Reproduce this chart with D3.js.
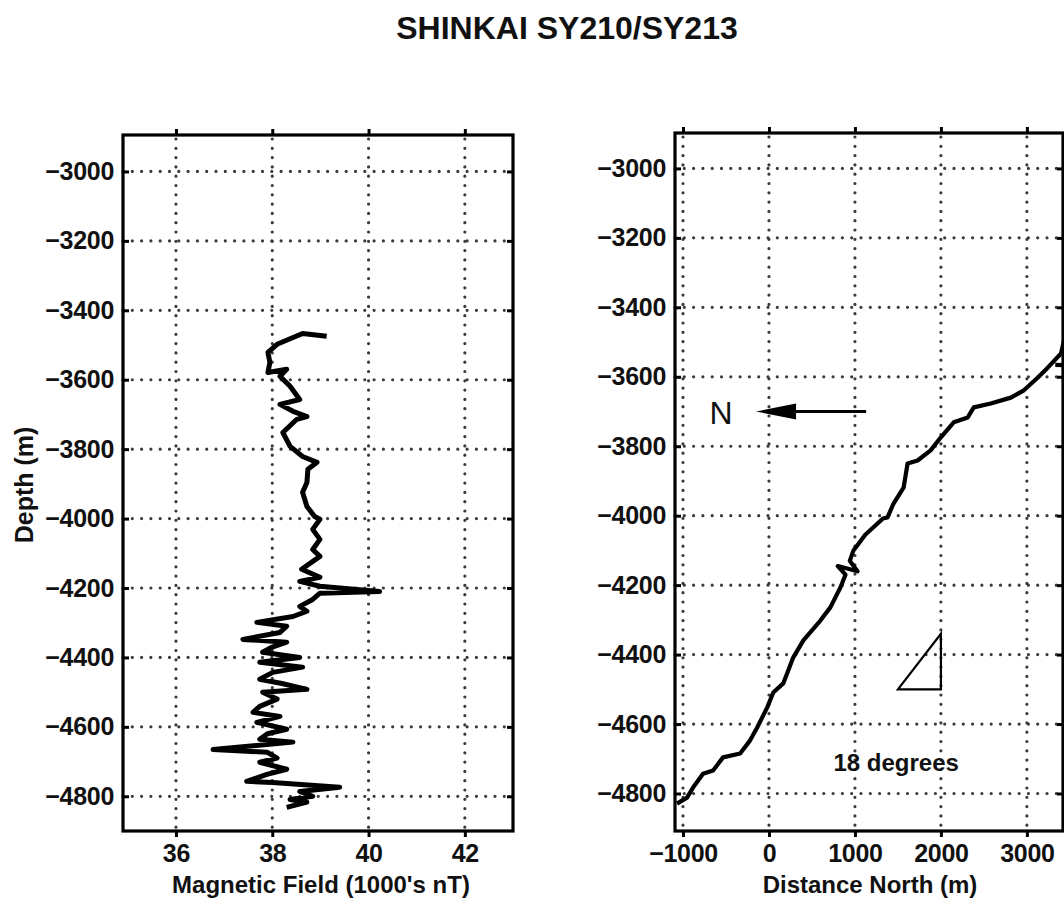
<!DOCTYPE html>
<html>
<head>
<meta charset="utf-8">
<script src="https://cdn.jsdelivr.net/npm/d3@7"></script>
<style>
  body { margin: 0; background: #fff; }
  text { font-family: "Liberation Sans", Arial, Helvetica, sans-serif; fill: #111; }
</style>
</head>
<body>
<svg width="1064" height="906"></svg>
<script>
// tick values
const depthTicks = [-4800, -4600, -4400, -4200, -4000, -3800, -3600, -3400, -3200, -3000];
const magTicks = [36, 38, 40, 42];
const distTicks = [-1000, 0, 1000, 2000, 3000];

// left panel: magnetic field (1000's nT) against depth (m)
const magDepth = [-3475, -3467, -3498, -3521, -3550, -3579, -3570, -3590, -3619, -3657,
  -3671, -3691, -3706, -3714, -3752, -3792, -3821, -3838, -3858, -3896,
  -3924, -3965, -3994, -4002, -4031, -4060, -4089, -4109, -4146, -4169,
  -4181, -4195, -4210, -4215, -4233, -4253, -4267, -4282, -4299, -4310,
  -4328, -4348, -4356, -4370, -4385, -4400, -4414, -4428, -4443, -4463,
  -4475, -4492, -4500, -4520, -4541, -4558, -4570, -4587, -4607, -4620,
  -4636, -4644, -4665, -4673, -4690, -4702, -4722, -4737, -4757, -4760,
  -4774, -4786, -4800, -4809, -4817, -4832];
const magField = [39.13, 38.63, 38.10, 37.91, 37.95, 37.91, 38.30, 38.16, 38.37, 38.57,
  38.16, 38.43, 38.72, 38.51, 38.22, 38.37, 38.63, 38.93, 38.74, 38.72,
  38.63, 38.72, 38.88, 38.99, 38.84, 38.99, 38.84, 38.99, 38.61, 38.99,
  38.57, 38.99, 40.23, 38.99, 38.84, 38.57, 38.72, 38.43, 37.68, 38.30,
  38.16, 37.39, 38.30, 38.00, 37.80, 38.57, 37.74, 38.63, 38.01, 37.74,
  38.20, 38.72, 37.80, 38.10, 37.74, 37.60, 38.16, 37.68, 38.30, 37.90,
  37.74, 38.43, 36.77, 37.89, 38.10, 37.74, 38.30, 37.89, 37.47, 38.01,
  39.40, 38.57, 38.84, 38.37, 38.72, 38.30];

// right panel: dive track, distance north (m) against depth (m); null = break
const trackNorth = [-1070, -953, -883, -767, -650, -534, -335, -219, -137, -20,
  50, 166, 283, 400, 598, 714, 831, 890, 800, 1030, 940, 983, 1120, 1326, 1379,
  1449, 1566, 1612, 1729, 1880, 1997, 2149, 2312, 2382, 2580, 2813, 2965,
  3128, 3245, 3397, 3432, 3520, null, 3330, 3600];
const trackDepth = [-4829, -4812, -4783, -4743, -4734, -4696, -4685, -4647, -4610, -4552,
  -4509, -4483, -4408, -4359, -4302, -4264, -4207, -4170, -4145, -4160, -4130, -4100, -4055, -4008, -4005,
  -3965, -3919, -3850, -3841, -3812, -3775, -3731, -3717, -3688, -3677, -3660, -3639,
  -3602, -3573, -3533, -3495, -3460, null, -3566, -3568];

// annotations (data units)
const arrowNorth = [1130, -150];
const arrowDepth = -3700;
const triNorth = [1500, 2000, 2000];
const triDepth = [-4500, -4500, -4340];

const svg = d3.select("svg");
svg.append("rect").attr("width", 1064).attr("height", 906).attr("fill", "white");

svg.append("text")
  .attr("x", 567).attr("y", 39)
  .attr("text-anchor", "middle")
  .style("font-size", "32px").style("font-weight", "bold")
  .text("SHINKAI SY210/SY213");

function drawPanel(id, xDomain, xRange, yDomain, yRange, xTicks) {
  let xScale = d3.scaleLinear().domain(xDomain).range(xRange);
  let yScale = d3.scaleLinear().domain(yDomain).range(yRange);
  let g = svg.append("g").attr("id", id);
  let [x0, x1] = xRange, [y1, y0] = yRange;

  g.append("clipPath").attr("id", id + "Clip")
    .append("rect").attr("x", x0).attr("y", y0)
    .attr("width", x1 - x0).attr("height", y1 - y0);

  // dotted grid
  g.selectAll("line.vgrid").data(xTicks).join("line")
    .attr("class", "vgrid")
    .attr("x1", d => xScale(d)).attr("x2", d => xScale(d))
    .attr("y1", y0 + 4).attr("y2", y1)
    .attr("stroke", "#3a3a3a").attr("stroke-width", 3.2)
    .attr("stroke-linecap", "round").attr("stroke-dasharray", "0,9.3");
  g.selectAll("line.hgrid").data(depthTicks).join("line")
    .attr("class", "hgrid")
    .attr("x1", x0).attr("x2", x1 - 2)
    .attr("y1", d => yScale(d)).attr("y2", d => yScale(d))
    .attr("stroke", "#3a3a3a").attr("stroke-width", 3.2)
    .attr("stroke-linecap", "round").attr("stroke-dasharray", "0,9.3");

  // inner tick marks on all sides
  let tickLen = 6;
  [[d3.axisLeft, yScale, depthTicks, x0, 0],
   [d3.axisRight, yScale, depthTicks, x1, 0],
   [d3.axisBottom, xScale, xTicks, 0, y0],
   [d3.axisTop, xScale, xTicks, 0, y1]].forEach(([axis, sc, tv, tx, ty]) => {
    let a = g.append("g").attr("transform", `translate(${tx},${ty})`)
      .call(axis(sc).tickValues(tv).tickSize(-tickLen).tickFormat(""));
    a.select(".domain").remove();
    a.selectAll("line").attr("stroke", "#000").attr("stroke-width", 3);
  });

  // tick labels
  let yAxis = g.append("g").attr("transform", `translate(${x0},0)`)
    .call(d3.axisLeft(yScale).tickValues(depthTicks).tickSize(0).tickPadding(9)
      .tickFormat(d3.format("d")));
  let xAxis = g.append("g").attr("transform", `translate(0,${y1})`)
    .call(d3.axisBottom(xScale).tickValues(xTicks).tickSize(0).tickPadding(13)
      .tickFormat(d3.format("d")));
  [yAxis, xAxis].forEach(a => {
    a.select(".domain").remove();
    a.selectAll("text").style("font-size", "25px").style("font-weight", "bold")
      .style("letter-spacing", "-0.3px")
      .style("font-family", '"Liberation Sans", Arial, sans-serif').attr("fill", "#111");
  });

  // frame
  g.append("rect").attr("x", x0).attr("y", y0)
    .attr("width", x1 - x0).attr("height", y1 - y0)
    .attr("fill", "none").attr("stroke", "#000").attr("stroke-width", 3.2);

  return {g, xScale, yScale};
}

// left panel
let left = drawPanel("magPanel", [34.9, 43], [123, 513], [-4900, -2895], [831, 135], magTicks);
left.g.append("path")
  .datum(d3.range(magDepth.length))
  .attr("clip-path", "url(#magPanelClip)")
  .attr("fill", "none").attr("stroke", "#000").attr("stroke-width", 5)
  .attr("stroke-linejoin", "round")
  .attr("d", d3.line().x(i => left.xScale(magField[i])).y(i => left.yScale(magDepth[i])));

left.g.append("text")
  .attr("x", 321).attr("y", 893)
  .attr("text-anchor", "middle")
  .style("font-size", "24px").style("font-weight", "bold")
  .text("Magnetic Field (1000's nT)");

svg.append("text")
  .attr("transform", "translate(33,485) rotate(-90)")
  .attr("text-anchor", "middle")
  .style("font-size", "25px").style("font-weight", "bold")
  .text("Depth (m)");

// right panel
let right = drawPanel("trackPanel", [-1093, 3420], [675, 1063], [-4908, -2898], [831, 133], distTicks);
right.g.append("path")
  .datum(d3.range(trackNorth.length))
  .attr("clip-path", "url(#trackPanelClip)")
  .attr("fill", "none").attr("stroke", "#000").attr("stroke-width", 4.2)
  .attr("stroke-linejoin", "round")
  .attr("d", d3.line()
    .defined(i => trackNorth[i] !== null)
    .x(i => right.xScale(trackNorth[i])).y(i => right.yScale(trackDepth[i])));

right.g.append("text")
  .attr("x", 870).attr("y", 893)
  .attr("text-anchor", "middle")
  .style("font-size", "24px").style("font-weight", "bold")
  .text("Distance North (m)");

// north arrow
let ay = right.yScale(arrowDepth);
let ax0 = right.xScale(arrowNorth[0]), ax1 = right.xScale(arrowNorth[1]);
right.g.append("line")
  .attr("x1", ax0).attr("x2", ax1 + 30).attr("y1", ay).attr("y2", ay)
  .attr("stroke", "#000").attr("stroke-width", 3);
right.g.append("path")
  .attr("d", `M${ax1},${ay} L${ax1 + 40},${ay - 8} L${ax1 + 40},${ay + 8} Z`)
  .attr("fill", "#000");
right.g.append("text")
  .attr("x", ax1 - 35).attr("y", ay + 12)
  .attr("text-anchor", "middle")
  .style("font-size", "32px")
  .text("N");

// slope triangle
right.g.append("path")
  .datum(d3.range(triNorth.length))
  .attr("fill", "none").attr("stroke", "#000").attr("stroke-width", 2.2)
  .attr("d", d3.line().x(i => right.xScale(triNorth[i])).y(i => right.yScale(triDepth[i]))
    .curve(d3.curveLinearClosed));

right.g.append("text")
  .attr("x", right.xScale(1480)).attr("y", right.yScale(-4711) + 8)
  .attr("text-anchor", "middle")
  .style("font-size", "24px").style("font-weight", "bold")
  .text("18 degrees");
</script>
</body>
</html>
